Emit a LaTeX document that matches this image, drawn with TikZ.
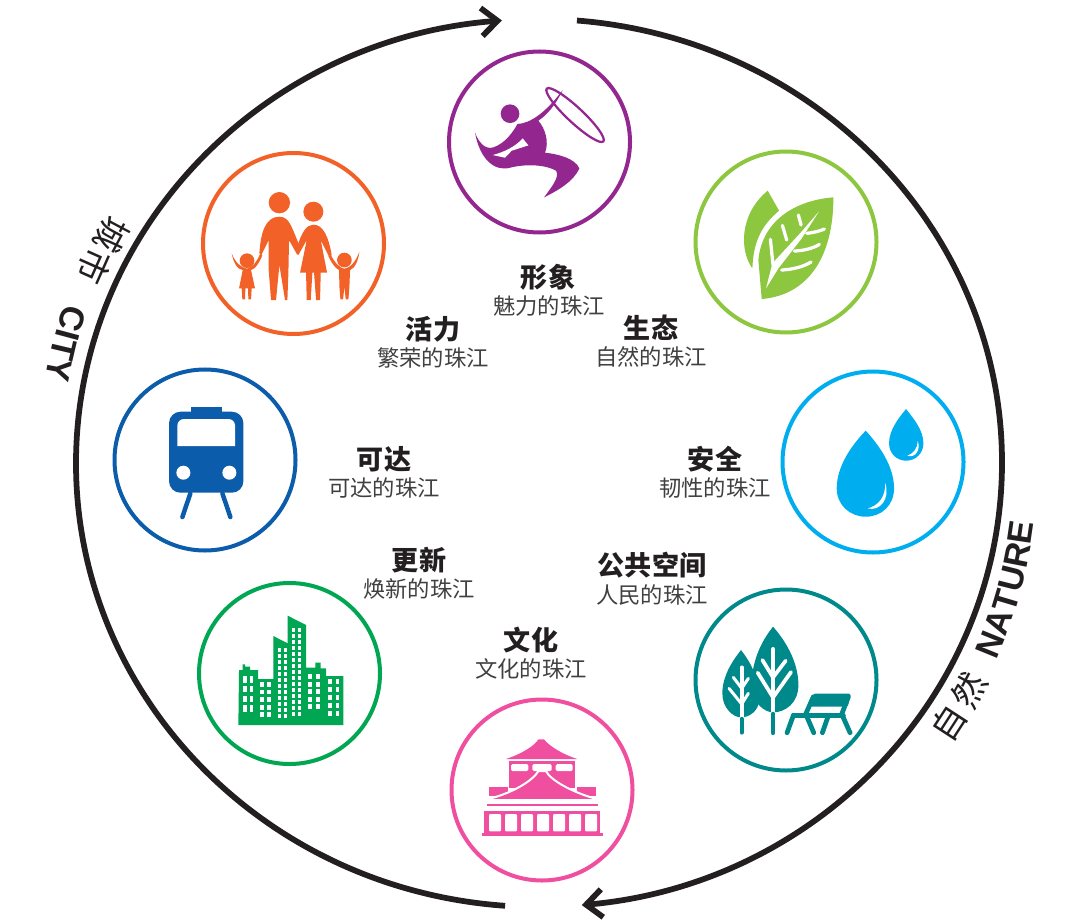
\documentclass[tikz,border=0pt]{standalone}
\usepackage{fontspec}
\usepackage{tikz}
\setmainfont{Liberation Sans}
\newfontfamily\cjk{Noto Sans CJK SC}
\usetikzlibrary{arrows.meta}
\usetikzlibrary{decorations.text}
\tikzset{outer/.style = {line width = 1.15mm, draw = mblack}}
\tikzset{ring/.style = {draw, circle, line width = 0.8mm, inner sep = 0, minimum size = 36.2mm}}
\tikzset{title/.style = {font = \cjk\bfseries\fontsize{15.4}{18}\selectfont, text = mblack, inner sep = 0}}
\tikzset{sub/.style = {font = \cjk\fontsize{12.7}{15}\selectfont, text = mgrey, inner sep = 0}}
\tikzset{side/.style = {font = \cjk\fontsize{19.5}{22}\selectfont, text = mblack, inner sep = 0}}
\tikzset{zoomed/.style = {x = 0.0667mm, y = -0.0667mm}}
\definecolor{mblack}{HTML}{231F20}
\definecolor{mgrey}{HTML}{404040}
\definecolor{mpurple}{HTML}{93278F}
\definecolor{morange}{HTML}{F26127}
\definecolor{mleaf}{HTML}{8DC63F}
\definecolor{mblue}{HTML}{0B5CAB}
\definecolor{mcyan}{HTML}{00AEEF}
\definecolor{mgreen}{HTML}{00A651}
\definecolor{mteal}{HTML}{00898B}
\definecolor{mpink}{HTML}{F04E9F}
\begin{document}
\begin{tikzpicture}[x = 0.2mm, y = -0.2mm]
      \useasboundingbox (0, 0) rectangle (1080, 921);
      \coordinate (ctr) at (539, 463);

      \draw [outer, -{Straight Barb[length = 3.2mm, width = 5.6mm]}] (ctr) ++(94.2:463 and 444) arc [start angle = 94.2, end angle = 265.4, x radius = 463, y radius = 444];
      \draw [outer, -{Straight Barb[length = 3.2mm, width = 5.6mm]}] (ctr) ++(-85.3:463 and 444) arc [start angle = -85.3, end angle = 84.7, x radius = 463, y radius = 444];

      \node (ring1) [ring, mpurple] at (539.5, 142) {};
      \node (ring2) [ring, morange] at (293.5, 243.5) {};
      \node (ring3) [ring, mleaf] at (786, 242) {};
      \node (ring4) [ring, mblue] at (205, 460) {};
      \node (ring5) [ring, mcyan] at (873, 462) {};
      \node (ring6) [ring, mgreen] at (289.5, 673.5) {};
      \node (ring7) [ring, mteal] at (786, 680) {};
      \node (ring8) [ring, mpink] at (542, 790) {};

      \node (t1) [title] at (548, 277) {形象};
      \node (s1) [sub] at (549, 306) {魅力的珠江};
      \node (t2) [title] at (433, 329) {活力};
      \node (s2) [sub] at (433, 358) {繁荣的珠江};
      \node (t3) [title] at (651, 328) {生态};
      \node (s3) [sub] at (651, 357) {自然的珠江};
      \node (t4) [title] at (384, 459) {可达};
      \node (s4) [sub] at (384, 488) {可达的珠江};
      \node (t5) [title] at (715, 459) {安全};
      \node (s5) [sub] at (715, 488) {韧性的珠江};
      \node (t6) [title] at (419, 560) {更新};
      \node (s6) [sub] at (419, 589) {焕新的珠江};
      \node (t7) [title] at (652, 565) {公共空间};
      \node (s7) [sub] at (652, 595) {人民的珠江};
      \node (t8) [title] at (531, 640) {文化};
      \node (s8) [sub] at (531, 669) {文化的珠江};

      \node (cheng) [side, rotate = -118] at (112, 235) {城};
      \node (shi) [side, rotate = -114] at (95, 267) {市};
      \node (zi) [side, rotate = 57] at (949, 723) {自};
      \node (ran) [side, rotate = 62] at (969, 690) {然};

      \path [postaction = {decorate, decoration = {text along path, text = {|\bfseries\fontsize{19.5}{22}\selectfont\color{mblack}|NATURE}, text align = {fit to path}}}]
            (539, 461) ++(23.6:499) arc [start angle = 23.6, end angle = 7.1, radius = 499];
      \path [postaction = {decorate, decoration = {text along path, text = {|\bfseries\fontsize{19.5}{22}\selectfont\color{mblack}|CITY}, text align = {fit to path}}}]
            (539, 461) ++(198.4:500) arc [start angle = 198.4, end angle = 189.4, radius = 500];

      \begin{scope}[shift = {(430, 0)}, zoomed]
        \fill [mpurple] (240, 341) circle [radius = 28];
        \draw [mpurple, line width = 0.45mm, rotate around = {-43:(435, 345)}] (435, 345) ellipse [x radius = 116, y radius = 23];
        \fill [mpurple] (398, 270) .. controls (375, 318) and (350, 345) .. (325, 362)
              .. controls (345, 385) and (358, 425) .. (345, 458)
              .. controls (385, 462) and (435, 475) .. (448, 505)
              .. controls (430, 545) and (385, 570) .. (342, 592)
              .. controls (365, 560) and (390, 530) .. (378, 512)
              .. controls (350, 495) and (290, 490) .. (240, 503)
              .. controls (195, 515) and (150, 480) .. (135, 398)
              .. controls (145, 425) and (165, 450) .. (190, 442)
              .. controls (225, 430) and (250, 395) .. (262, 372)
              .. controls (300, 370) and (345, 340) .. (398, 270) -- cycle;
        \fill [white] (188, 465) -- (225, 473) -- (245, 452) -- (295, 436) -- (278, 415)
              .. controls (255, 440) and (225, 455) .. (188, 465) -- cycle;
      \end{scope}

      \begin{scope}[shift = {(190, 140)}, zoomed]
        \fill [morange] (268, 188) circle [radius = 32];
        \fill [morange] (370, 215) circle [radius = 30];
        \fill [morange] (171, 362) circle [radius = 22];
        \fill [morange] (463, 360) circle [radius = 22];
        \fill [morange] (268, 230) .. controls (300, 230) and (305, 265) .. (330, 320) -- (322, 345) -- (297, 300)
              -- (295, 400) -- (292, 480) -- (285, 480) -- (268, 375) -- (258, 480) -- (243, 480) -- (236, 390) -- (236, 300)
              -- (214, 345) -- (208, 340) .. controls (212, 280) and (225, 230) .. (268, 230) -- cycle;
        \fill [morange] (370, 254) .. controls (400, 254) and (415, 290) .. (425, 345) -- (417, 350) -- (392, 300)
              -- (411, 398) -- (392, 398) -- (390, 480) -- (378, 480) -- (372, 398) -- (367, 398) -- (362, 480) -- (350, 480) -- (348, 398) -- (330, 398)
              -- (350, 300) -- (325, 345) -- (320, 325) .. controls (335, 275) and (350, 254) .. (370, 254) -- cycle;
        \fill [morange] (125, 340) .. controls (130, 365) and (140, 388) .. (158, 390) -- (147, 445) -- (155, 445) -- (157, 478) -- (165, 478) -- (166, 445)
              -- (174, 445) -- (175, 478) -- (183, 478) -- (185, 445) -- (195, 445) -- (183, 390)
              .. controls (195, 388) and (210, 365) .. (217, 345) -- (210, 342) .. controls (200, 365) and (190, 380) .. (171, 386)
              .. controls (150, 382) and (135, 365) .. (125, 340) -- cycle;
        \fill [morange] (508, 335) .. controls (505, 360) and (495, 385) .. (480, 390) -- (478, 440) -- (475, 478) -- (467, 478) -- (463, 440)
              -- (459, 478) -- (451, 478) -- (448, 440) -- (447, 390) .. controls (435, 385) and (422, 365) .. (415, 348) -- (422, 344)
              .. controls (435, 370) and (450, 384) .. (463, 386) .. controls (480, 384) and (497, 365) .. (508, 335) -- cycle;
      \end{scope}

      \begin{scope}[shift = {(685, 180)}, zoomed]
        \fill [mleaf] (248, 32) -- (282, 92) .. controls (225, 140) and (205, 190) .. (202, 265)
              .. controls (165, 215) and (160, 105) .. (248, 32) -- cycle;
        \fill [mleaf] (445, 52) .. controls (340, 60) and (232, 115) .. (220, 240) -- (230, 357)
              .. controls (370, 345) and (445, 230) .. (445, 52) -- cycle;
        \fill [white] (243, 325) -- (262, 250) -- (345, 160) -- (402, 94) -- (350, 175) -- (280, 265) -- cycle;
        \draw [white, line width = 0.65mm, line cap = round] (264, 255) -- (256, 178);
        \draw [white, line width = 0.65mm, line cap = round] (305, 180) -- (292, 136);
        \draw [white, line width = 0.65mm, line cap = round] (348, 135) -- (340, 105);
        \draw [white, line width = 0.65mm, line cap = round] (290, 270) .. controls (325, 268) and (355, 260) .. (378, 246);
        \draw [white, line width = 0.65mm, line cap = round] (328, 213) .. controls (355, 212) and (385, 205) .. (403, 193);
        \draw [white, line width = 0.65mm, line cap = round] (365, 160) .. controls (385, 158) and (405, 153) .. (418, 147);
      \end{scope}

      \begin{scope}[shift = {(105, 365)}, zoomed]
        \fill [mblue] (258, 127) rectangle (350, 145);
        \fill [mblue, rounded corners = 2.3mm] (192, 140) rectangle (415, 383);
        \fill [white, rounded corners = 1.3mm] (217, 243) -- (217, 162) -- (390, 162) -- (390, 243);
        \fill [white] (235, 323) circle [radius = 21];
        \fill [white] (373, 323) circle [radius = 21];
        \draw [mblue, line width = 0.9mm, line cap = round] (256, 385) -- (232, 456);
        \draw [mblue, line width = 0.9mm, line cap = round] (352, 385) -- (376, 456);
      \end{scope}

      \begin{scope}[shift = {(770, 365)}, zoomed]
        \fill [mcyan] (287, 197) .. controls (250, 235) and (200, 300) .. (200, 370)
              .. controls (200, 420) and (240, 455) .. (287, 455)
              .. controls (335, 455) and (372, 420) .. (372, 370)
              .. controls (372, 300) and (322, 235) .. (287, 197) -- cycle;
        \fill [white] (345, 353) .. controls (348, 395) and (325, 422) .. (293, 430)
              .. controls (330, 440) and (362, 400) .. (345, 353) -- cycle;
        \fill [mcyan] (408, 132) .. controls (385, 160) and (357, 195) .. (357, 235)
              .. controls (357, 265) and (380, 287) .. (408, 287)
              .. controls (437, 287) and (460, 265) .. (460, 235)
              .. controls (460, 195) and (430, 160) .. (408, 132) -- cycle;
        \fill [white] (443, 228) .. controls (443, 250) and (430, 265) .. (412, 272)
              .. controls (435, 280) and (453, 255) .. (443, 228) -- cycle;
      \end{scope}

      \begin{scope}[shift = {(190, 570)}, zoomed]
        \fill [mgreen] (145, 465) -- (460, 465) -- (460, 318) -- (408, 318) -- (408, 295) -- (392, 295) -- (392, 278) -- (376, 278) -- (376, 293)
              -- (348, 293) -- (348, 165) -- (293, 137) -- (293, 220) -- (250, 198) -- (250, 327) -- (204, 327) -- (204, 300) -- (180, 300) -- (180, 290)
              -- (165, 290) -- (165, 283) -- (158, 283) -- (158, 300) -- (147, 300) -- cycle;
        \foreach \x in {160, 179}
          \foreach \y in {319, 348, 377, 406}
            \fill [white] (\x, \y) rectangle ++(10, 19);
        \foreach \x in {211, 232}
          \foreach \y in {336, 359, 382, 405, 426}
            \fill [white] (\x, \y) rectangle ++(10, 14);
        \foreach \x in {263, 283}
          \foreach \y in {234, 252, ..., 432}
            \fill [white] (\x, \y) rectangle ++(9, 11);
        \foreach \x in {306, 324}
          \foreach \y in {174, 192, ..., 432}
            \fill [white] (\x, \y) rectangle ++(9, 11);
        \foreach \x in {354, 378}
          \foreach \y in {311, 335, 358, 381, 402}
            \fill [white] (\x, \y) rectangle ++(11, 15);
        \foreach \x in {414, 437}
          \foreach \y in {328, 352, 376, 400, 424}
            \fill [white] (\x, \y) rectangle ++(11, 15);
      \end{scope}

      \begin{scope}[shift = {(685, 590)}, zoomed]
        \fill [mteal] (168, 180) .. controls (140, 215) and (112, 260) .. (112, 310)
              .. controls (112, 355) and (145, 382) .. (168, 382)
              .. controls (195, 382) and (222, 360) .. (222, 330)
              .. controls (222, 260) and (195, 215) .. (168, 180) -- cycle;
        \fill [mteal] (264, 110) .. controls (240, 140) and (200, 200) .. (200, 285)
              .. controls (200, 340) and (240, 367) .. (264, 367)
              .. controls (300, 367) and (340, 340) .. (340, 285)
              .. controls (340, 210) and (295, 145) .. (264, 110) -- cycle;
        \draw [white, line width = 0.75mm, line cap = round] (170, 232) -- (170, 380);
        \draw [white, line width = 0.6mm, line cap = round] (170, 342) -- (132, 295);
        \draw [white, line width = 0.6mm, line cap = round] (170, 295) -- (145, 262);
        \draw [white, line width = 0.6mm, line cap = round] (170, 342) -- (190, 310);
        \draw [white, line width = 0.6mm, line cap = round] (170, 295) -- (190, 265);
        \draw [white, line width = 0.95mm, line cap = round] (264, 178) -- (264, 364);
        \draw [white, line width = 0.75mm, line cap = round] (264, 322) -- (218, 248);
        \draw [white, line width = 0.75mm, line cap = round] (264, 262) -- (232, 210);
        \draw [white, line width = 0.75mm, line cap = round] (264, 322) -- (318, 246);
        \draw [white, line width = 0.75mm, line cap = round] (264, 262) -- (302, 212);
        \draw [mteal, line width = 0.75mm, line cap = round] (170, 386) -- (170, 428);
        \draw [mteal, line width = 0.95mm, line cap = round] (264, 372) -- (264, 428);
        \fill [mteal, rounded corners = 0.3mm] (385, 311) -- (497, 311) -- (488, 350) -- (375, 350) -- cycle;
        \draw [mteal, line width = 0.95mm, line cap = round] (325, 376) -- (475, 376);
        \draw [mteal, line width = 0.95mm, line cap = round] (325, 376) -- (306, 428);
        \draw [mteal, line width = 0.95mm, line cap = round] (385, 320) -- (362, 372) -- (386, 428);
        \draw [mteal, line width = 0.95mm, line cap = round] (490, 320) -- (470, 372) -- (495, 428);
        \draw [mteal, line width = 0.95mm, line cap = round] (428, 382) -- (412, 428);
      \end{scope}

      \begin{scope}[shift = {(440, 690)}, zoomed]
        \fill [mpink] (197, 207) .. controls (250, 190) and (285, 165) .. (295, 148) -- (312, 148)
              .. controls (325, 165) and (360, 190) .. (412, 207) -- cycle;
        \fill [mpink] (207, 213) rectangle (405, 295);
        \fill [white, rounded corners = 0.3mm] (213, 222) rectangle (265, 243);
        \fill [white, rounded corners = 0.3mm] (277, 222) rectangle (335, 243);
        \fill [white, rounded corners = 0.3mm] (347, 222) rectangle (398, 243);
        \fill [mpink] (147, 290) rectangle (205, 318);
        \fill [mpink] (412, 290) rectangle (468, 318);
        \fill [mpink, draw = white, line width = 0.4mm] (133, 330) .. controls (220, 310) and (280, 270) .. (295, 243) -- (318, 243)
              .. controls (330, 270) and (400, 310) .. (482, 330) -- cycle;
        \fill [mpink] (140, 341) rectangle (473, 349);
        \fill [mpink] (133, 363) rectangle (480, 428);
        \foreach \x in {147, 195, ..., 435}
          \fill [white, rounded corners = 0.2mm] (\x, 372) rectangle ++(36, 52);
        \fill [mpink] (125, 428) rectangle (488, 438);
      \end{scope}
\end{tikzpicture}
\end{document}
